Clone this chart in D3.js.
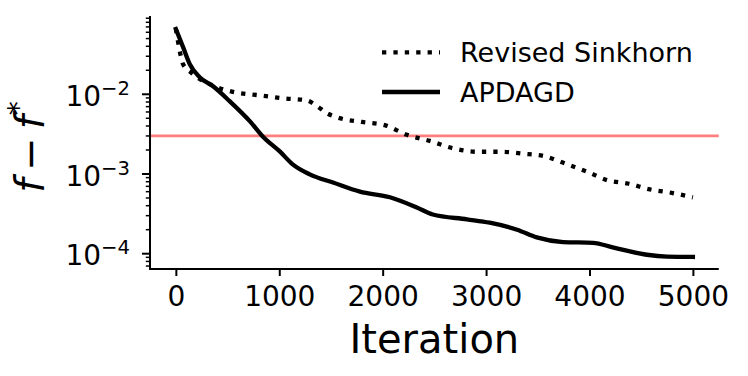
<!DOCTYPE html>
<html>
<head>
<meta charset="utf-8">
<script src="https://cdn.jsdelivr.net/npm/d3@7"></script>
<style>
  html, body { margin: 0; padding: 0; background: #fff; }
  svg { display: block; font-family: "DejaVu Sans", sans-serif; }
</style>
</head>
<body>
<svg id="chart" width="748" height="376"></svg>
<script>
// ---- data ----
const sinkhornIters = [0, 20, 40, 70, 155, 350, 570, 810, 1035, 1265, 1365, 1460, 1565, 1800, 2020, 2235, 2455, 2680, 2910, 3135, 3355, 3570, 3760, 3975, 4180, 4370, 4585, 4795, 5000];
const sinkhornValues = [0.066, 0.0465, 0.0337, 0.0238, 0.0184, 0.013, 0.0106, 0.0097, 0.0089, 0.0084, 0.0071, 0.0058, 0.0051, 0.0045, 0.0041, 0.0031, 0.0026, 0.0021, 0.0019, 0.0019, 0.0018, 0.00166, 0.00136, 0.00107, 0.00083, 0.00076, 0.00064, 0.00058, 0.00051];
const apdagdIters = [0, 70, 135, 230, 360, 520, 715, 840, 1005, 1130, 1295, 1520, 1780, 2070, 2330, 2485, 2815, 3035, 3300, 3490, 3745, 4035, 4225, 4555, 4750, 5000];
const apdagdValues = [0.066, 0.039, 0.0238, 0.0164, 0.0126, 0.0082, 0.0046, 0.00296, 0.00192, 0.00132, 0.00099, 0.00078, 0.0006, 0.00051, 0.00038, 0.00031, 0.00027, 0.000245, 0.0002, 0.00016, 0.00014, 0.000137, 0.00012, 0.000097, 0.000092, 0.000091];
const threshold = [0.003];
const seriesNames = ["Revised Sinkhorn", "APDAGD"];
const xTickValues = [0, 1000, 2000, 3000, 4000, 5000];
const yMajorExponents = [-4, -3, -2];
const xLabel = "Iteration";

(function () {
// ---- layout ----
const svg = d3.select("#chart");
const pLeft = 150, pRight = 718.75, pTop = 16, pBottom = 269;
const x = d3.scaleLinear().domain([-250, 5250]).range([pLeft, pRight]);
const y = d3.scaleLog().domain([Math.pow(10, -4.192), Math.pow(10, -1.018)]).range([pBottom, pTop]);

// threshold line
svg.selectAll("line.thr").data(threshold).enter().append("line")
  .attr("x1", pLeft).attr("x2", pRight)
  .attr("y1", d => y(d)).attr("y2", d => y(d))
  .attr("stroke", "#ff7f7f").attr("stroke-width", 2.8);

// series
const line = d3.line().x(d => x(d[0])).y(d => y(d[1])).curve(d3.curveMonotoneX);
const sinkData = sinkhornIters.map((t, i) => [t, sinkhornValues[i]]);
const apdData = apdagdIters.map((t, i) => [t, apdagdValues[i]]);

svg.append("path").datum(sinkData).attr("d", line)
  .attr("fill", "none").attr("stroke", "#000").attr("stroke-width", 4.3)
  .attr("stroke-dasharray", "4.3,7.1").attr("stroke-linecap", "butt");
svg.append("path").datum(apdData).attr("d", line)
  .attr("fill", "none").attr("stroke", "#000").attr("stroke-width", 4.3)
  .attr("stroke-linecap", "square").attr("stroke-linejoin", "round");

// x axis
const xAxis = d3.axisBottom(x).tickValues(xTickValues).tickSize(7).tickPadding(10).tickFormat(d3.format("d"));
const gx = svg.append("g").attr("transform", `translate(0,${pBottom})`).call(xAxis);
gx.select(".domain").attr("stroke-width", 2).attr("d", `M${pLeft - 1},0H${pRight}`);
gx.selectAll(".tick line").attr("stroke-width", 2);
gx.selectAll(".tick text").attr("font-size", 28).attr("fill", "#000")
  .attr("font-family", "DejaVu Sans").attr("dy", "0.71em");

// y axis
const minorTicks = [];
for (let e = -5; e <= -1; e++) for (let m = 2; m <= 9; m++) {
  const v = m * Math.pow(10, e);
  if (v >= y.domain()[0] && v <= y.domain()[1]) minorTicks.push(v);
}
const gy = svg.append("g");
gy.append("line").attr("x1", pLeft).attr("x2", pLeft).attr("y1", pTop).attr("y2", pBottom + 1)
  .attr("stroke", "#000").attr("stroke-width", 2);
gy.selectAll("line.minor").data(minorTicks).enter().append("line")
  .attr("x1", pLeft - 4.2).attr("x2", pLeft).attr("y1", d => y(d)).attr("y2", d => y(d))
  .attr("stroke", "#000").attr("stroke-width", 1.5);
const majors = yMajorExponents.map(e => ({ e: e, v: Math.pow(10, e) }));
gy.selectAll("line.major").data(majors).enter().append("line")
  .attr("x1", pLeft - 8).attr("x2", pLeft).attr("y1", d => y(d.v)).attr("y2", d => y(d.v))
  .attr("stroke", "#000").attr("stroke-width", 2);
const yl = gy.selectAll("text.ytl").data(majors).enter().append("text")
  .attr("x", 130).attr("y", d => y(d.v) + 11.7)
  .attr("text-anchor", "end").attr("font-size", 28).attr("fill", "#000");
yl.append("tspan").text("10");
yl.append("tspan").attr("font-size", 19.6).attr("dy", -11).text(d => "\u2212" + Math.abs(d.e));

// axis labels
svg.append("text").attr("x", (pLeft + pRight) / 2).attr("y", 353)
  .attr("text-anchor", "middle").attr("font-size", 40).attr("fill", "#000").text(xLabel);

const ylab = svg.append("text").attr("transform", "translate(44,147) rotate(-90)")
  .attr("text-anchor", "middle").attr("font-size", 40).attr("fill", "#000");
ylab.append("tspan").attr("font-style", "italic").text("f");
ylab.append("tspan").text("\u2009\u2212\u2009");
ylab.append("tspan").attr("font-style", "italic").text("f");
ylab.append("tspan").attr("font-size", 28).attr("dy", -16).text("*");

// legend
const legend = svg.append("g");
const rows = [
  { name: seriesNames[0], dash: "4.3,7.1", y: 52.3 },
  { name: seriesNames[1], dash: null, y: 92 }
];
rows.forEach(r => {
  const l = legend.append("line").attr("x1", 382).attr("x2", 440).attr("y1", r.y).attr("y2", r.y)
    .attr("stroke", "#000").attr("stroke-width", 4.3).attr("stroke-linecap", "butt");
  if (r.dash) l.attr("stroke-dasharray", r.dash);
  legend.append("text").attr("x", 460).attr("y", r.y + 9.8).attr("font-size", 27)
    .attr("fill", "#000").text(r.name);
});
})();
</script>
</body>
</html>
